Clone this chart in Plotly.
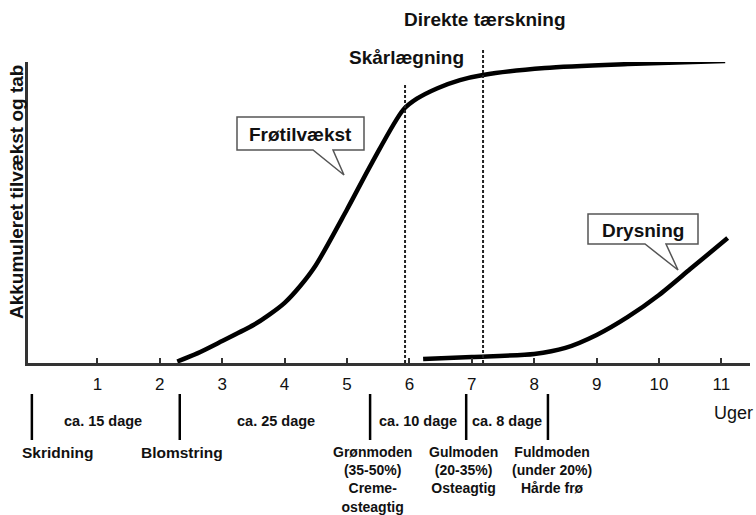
import plotly.graph_objects as go

# ---------------- data ----------------
frø_weeks = [2.28, 2.6, 3.0, 3.5, 3.75, 4.0, 4.25, 4.5, 5.0, 5.4, 5.9, 6.12, 6.45, 6.81, 7.18, 8.17, 9.5, 11.06]
frø_vals = [0.5, 3.2, 7.3, 12.6, 16.0, 20.0, 25.6, 32.5, 51.0, 66.5, 84.1, 87.8, 91.3, 94.0, 95.7, 98.0, 99.3, 100.3]

drys_weeks = [6.22, 7.0, 8.0, 8.5, 9.0, 9.5, 10.0, 10.5, 11.1]
drys_vals = [1.3, 2.0, 3.0, 5.0, 9.3, 15.3, 22.6, 31.2, 41.5]

tick_weeks = [1, 2, 3, 4, 5, 6, 7, 8, 9, 10, 11]
tick_labels = [str(t) for t in tick_weeks]

event_names = ["Skårlægning", "Direkte tærskning"]
event_weeks = [5.93, 7.18]

stage_weeks = [-0.05, 2.32, 5.37, 6.91, 8.22]
stage_labels = ["Skridning", "Blomstring",
                "Grønmoden<br>(35-50%)<br>Creme-<br>osteagtig",
                "Gulmoden<br>(20-35%)<br>Osteagtig",
                "Fuldmoden<br>(under 20%)<br>Hårde frø"]
interval_labels = ["ca. 15 dage", "ca. 25 dage", "ca. 10 dage", "ca. 8 dage"]

# ---------------- layout helpers (pixel -> paper) ----------------
W, H = 756, 515
PL, PR, PT, PB = 28, 750, 62, 363
def px(x):
    return (x - PL) / (PR - PL)
def py(y):
    return (PB - y) / (PB - PT)

FONT = "Liberation Sans, Arial, sans-serif"
INK = "#111111"

fig = go.Figure()
fig.add_trace(go.Scatter(x=frø_weeks, y=frø_vals, mode="lines",
                         line=dict(color="#000", width=4.5, shape="spline", smoothing=0.8),
                         hoverinfo="skip", cliponaxis=False))
fig.add_trace(go.Scatter(x=drys_weeks, y=drys_vals, mode="lines",
                         line=dict(color="#000", width=4.5, shape="spline", smoothing=0.7),
                         hoverinfo="skip", cliponaxis=False))

shapes = []
annotations = []

# dashed event lines
event_tops = [py(83), py(50)]
event_label_pos = [(406, 58), (485, 20)]
for wk, top, name, (lx, ly) in zip(event_weeks, event_tops, event_names, event_label_pos):
    shapes.append(dict(type="line", xref="x", yref="paper", x0=wk, x1=wk, y0=0, y1=top,
                       line=dict(color="#222", width=2, dash="3px,2px")))
    annotations.append(dict(text="<b>%s</b>" % name, xref="paper", yref="paper",
                            x=px(lx), y=py(ly), showarrow=False,
                            font=dict(family=FONT, size=19, color=INK),
                            xanchor="center", yanchor="middle"))

# callouts
def callout(L, R, T, B, b1, b2, tip, label, cx, cy):
    pts = [(L, T), (R, T), (R, B), (b2, B), tip, (b1, B), (L, B)]
    path = "M " + " L ".join("%.5f,%.5f" % (px(a), py(b)) for a, b in pts) + " Z"
    shapes.append(dict(type="path", xref="paper", yref="paper", path=path,
                       fillcolor="white", line=dict(color="#555", width=1.5)))
    annotations.append(dict(text="<b>%s</b>" % label, xref="paper", yref="paper",
                            x=px(cx), y=py(cy), showarrow=False,
                            font=dict(family=FONT, size=19, color=INK),
                            xanchor="center", yanchor="middle"))

callout(237, 364, 117, 150, 313, 333, (344, 175), "Frøtilvækst", 300, 134)
callout(588, 698, 214, 244, 645, 666, (678, 270), "Drysning", 643, 230)

# stage bars + labels
for wk, lab in zip(stage_weeks, stage_labels):
    shapes.append(dict(type="line", xref="x", yref="paper", x0=wk, x1=wk,
                       y0=py(394), y1=py(440), line=dict(color="#000", width=2.5)))
label_x = [57, 182, 372, 463, 552]
label_size = [15.5, 15.5, 14, 14, 14]
for lx, lab, fs in zip(label_x, stage_labels, label_size):
    annotations.append(dict(text="<b>%s</b>" % lab.replace("<br>", "</b><br><b>"),
                            xref="paper", yref="paper",
                            x=px(lx), y=py(442), showarrow=False,
                            font=dict(family=FONT, size=fs, color=INK),
                            xanchor="center", yanchor="top", align="center"))
interval_x = [103, 276, 418, 507]
for ix, lab in zip(interval_x, interval_labels):
    annotations.append(dict(text="<b>%s</b>" % lab, xref="paper", yref="paper",
                            x=px(ix), y=py(421), showarrow=False,
                            font=dict(family=FONT, size=14.5, color=INK),
                            xanchor="center", yanchor="middle"))

# axis titles
annotations.append(dict(text="<b>Akkumuleret tilvækst og tab</b>", xref="paper", yref="paper",
                        x=px(16), y=py(192), showarrow=False, textangle=-90,
                        font=dict(family=FONT, size=19, color=INK),
                        xanchor="center", yanchor="middle"))
annotations.append(dict(text="Uger", xref="paper", yref="paper",
                        x=px(733), y=py(413), showarrow=False,
                        font=dict(family=FONT, size=18, color=INK),
                        xanchor="center", yanchor="middle"))

fig.update_layout(
    width=W, height=H,
    margin=dict(l=PL, r=W - PR, t=PT, b=H - PB),
    paper_bgcolor="white", plot_bgcolor="white",
    showlegend=False,
    shapes=shapes, annotations=annotations,
    xaxis=dict(range=[-0.112, 11.458], tickvals=tick_weeks, ticktext=tick_labels,
               ticks="inside", ticklen=5, tickwidth=1.5, tickcolor="#333",
               ticklabelstandoff=4,
               showline=True, linewidth=2.5, linecolor="#333",
               showgrid=False, zeroline=False,
               tickfont=dict(family=FONT, size=17, color=INK)),
    yaxis=dict(range=[0, 100], showline=True, linewidth=2.5, linecolor="#333",
               showticklabels=False, ticks="", showgrid=False, zeroline=False),
)

fig.write_html("out.html", config={"displayModeBar": False},
               post_script="document.body.style.margin='0';document.body.style.overflow='hidden';")
